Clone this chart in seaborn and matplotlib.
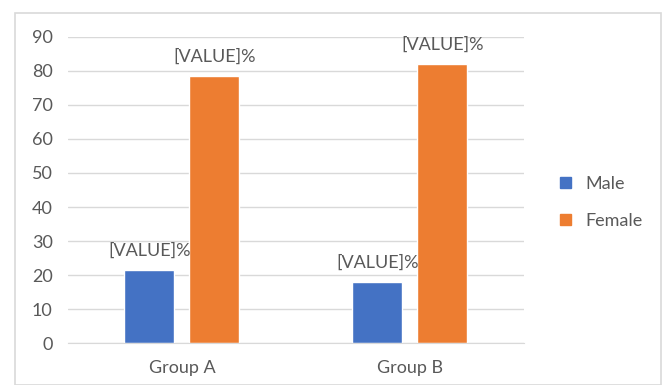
import pandas as pd
import seaborn as sns
import matplotlib.pyplot as plt
from matplotlib.patches import Rectangle

# 数据
groups = ["Group A", "Group B"]
male = [21.5, 18.0]
female = [78.5, 82.0]
series = ["Male", "Female"]
colors = ["#4472C4", "#ED7D31"]

df = pd.DataFrame({
    "Group": groups * 2,
    "Sex": ["Male"] * len(groups) + ["Female"] * len(groups),
    "Value": male + female,
})

sns.set_style("white")
plt.rcParams['font.family'] = ['Lato', 'DejaVu Sans']
text_color = "#595959"
fs = 13

fig = plt.figure(figsize=(6.63, 3.85), dpi=100)
ax = fig.add_axes([0.1026, 0.109, 0.6874, 0.795])

sns.barplot(data=df, x="Group", y="Value", hue="Sex", hue_order=series,
            palette=colors, width=0.57, gap=0.23, saturation=1,
            ax=ax, legend=False)

ax.set_ylim(0, 90)
ax.set_xlim(-0.5, 1.5)
ax.set_yticks(range(0, 91, 10))
ax.yaxis.grid(True, color="#D9D9D9", linewidth=1)
ax.set_axisbelow(True)
for side in ["top", "right", "left"]:
    ax.spines[side].set_visible(False)
ax.spines["bottom"].set_color("#D9D9D9")
ax.set_xlabel("")
ax.set_ylabel("")
ax.tick_params(axis="both", length=0, labelsize=fs, colors=text_color)
ax.tick_params(axis="x", pad=12)
ax.tick_params(axis="y", pad=11)

# 数据标签
for container in ax.containers:
    for bar in container:
        ax.annotate("[VALUE]%", (bar.get_x() + bar.get_width() / 2, bar.get_height()),
                    xytext=(0, 8), textcoords="offset points",
                    ha="center", va="bottom", fontsize=fs, color=text_color)

# 图例
handles = [Rectangle((0, 0), 1, 1, color=c) for c in colors]
fig.legend(handles, series, loc="center left", bbox_to_anchor=(0.82, 0.474),
           frameon=False, fontsize=fs, labelcolor=text_color,
           handlelength=0.6, handleheight=0.6, labelspacing=1.15, handletextpad=0.8)

# 外框
fig.patches.append(Rectangle((15 / 663, 0), 646 / 663, 1 - 13 / 385,
                             transform=fig.transFigure, fill=False,
                             edgecolor="#D9D9D9", linewidth=1.2))

fig.savefig("out.png", dpi=100)
